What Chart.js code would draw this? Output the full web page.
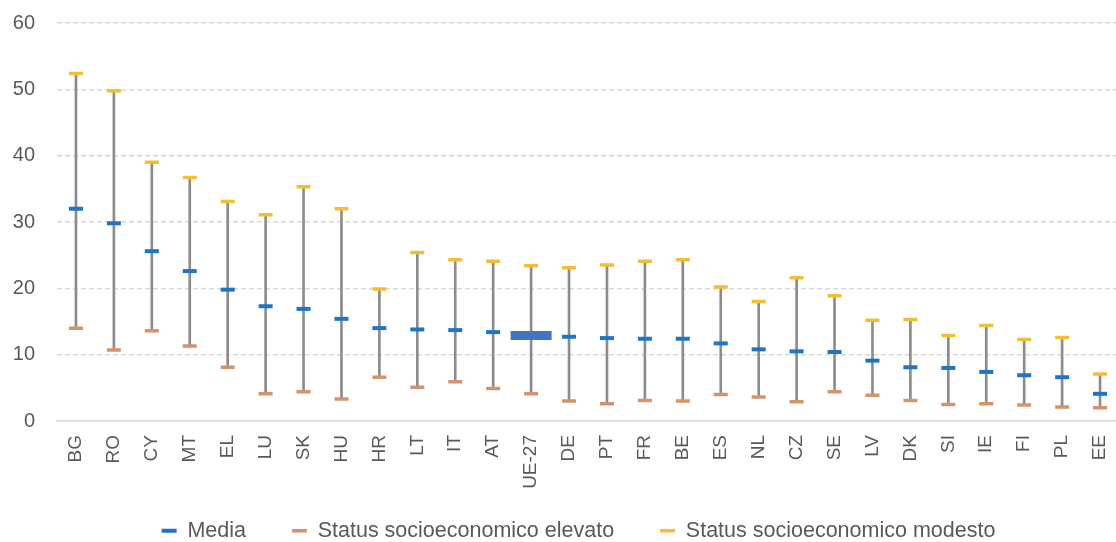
<!DOCTYPE html>
<html>
<head>
<meta charset="utf-8">
<script src="https://cdn.jsdelivr.net/npm/chart.js@4/dist/chart.umd.min.js"></script>
<style>
  html, body { margin: 0; padding: 0; overflow: hidden; background: #fff; }
  #wrap { width: 1116px; height: 542px; overflow: hidden; position: relative; }
  #box { width: 1130px; height: 542px; position: absolute; left: 0; top: 0; }
</style>
</head>
<body>
<div id="wrap"><div id="box"><canvas id="c"></canvas></div></div>
<script>
const categories = ['BG','RO','CY','MT','EL','LU','SK','HU','HR','LT','IT','AT','UE-27','DE','PT','FR','BE','ES','NL','CZ','SE','LV','DK','SI','IE','FI','PL','EE'];
const media   = [32.0, 29.8, 25.6, 22.6, 19.8, 17.3, 16.9, 15.4, 14.0, 13.8, 13.7, 13.4, 12.9, 12.7, 12.5, 12.4, 12.4, 11.7, 10.8, 10.5, 10.4, 9.1, 8.1, 8.0, 7.4, 6.9, 6.6, 4.1];
const elevato = [14.0, 10.7, 13.6, 11.3, 8.1, 4.1, 4.4, 3.3, 6.6, 5.1, 5.9, 4.9, 4.1, 3.0, 2.6, 3.1, 3.0, 4.0, 3.6, 2.9, 4.4, 3.9, 3.1, 2.5, 2.6, 2.4, 2.1, 2.0];
const modesto = [52.4, 49.8, 39.0, 36.7, 33.1, 31.1, 35.3, 32.0, 19.9, 25.4, 24.3, 24.1, 23.4, 23.1, 23.5, 24.1, 24.3, 20.2, 18.0, 21.6, 18.9, 15.2, 15.3, 12.9, 14.4, 12.3, 12.6, 7.1];
const yTicks = [0, 10, 20, 30, 40, 50, 60];
const seriesNames = ['Media', 'Status socioeconomico elevato', 'Status socioeconomico modesto'];

const FONT = "'Liberation Sans', Arial, sans-serif";
const TXT = '#595959';
const LEGEND_H = 40;
const LEGEND_SHIFT = 15;
const LEGEND_PAD = 46;
const LEGEND_CENTER_Y = 532;

const ranges = categories.map((c, i) => [elevato[i], modesto[i]]);
const isEU = categories.map(c => c === 'UE-27');

const legendPatch = {
  id: 'legendPatch',
  afterInit(chart) {
    const lg = chart.legend;
    if (!lg) return;
    const f = lg.fit;
    lg.fit = function () { f.call(this); this.height = LEGEND_H; };
  },
  afterLayout(chart) {
    const lg = chart.legend;
    if (!lg) return;
    lg.left += LEGEND_SHIFT;
    lg.right += LEGEND_SHIFT;
    const ih = lg._itemHeight || 24;
    lg.top = LEGEND_CENTER_Y - LEGEND_PAD - ih / 2;
    lg.bottom = chart.height;
  }
};

function noPad(scale) {
  scale.paddingTop = 0; scale.paddingBottom = 0; scale.paddingLeft = 0; scale.paddingRight = 0;
}

new Chart(document.getElementById('c'), {
  data: {
    labels: categories,
    datasets: [
      { type: 'line', label: seriesNames[0], data: media, showLine: false, order: 0, pointStyle: 'line',
        pointRadius: isEU.map(e => e ? 20.5 : 7), pointHoverRadius: isEU.map(e => e ? 20.5 : 7),
        pointBorderWidth: isEU.map(e => e ? 9 : 4),
        pointBorderColor: isEU.map(e => e ? '#4472C4' : '#1F74C4'),
        borderColor: '#1F74C4', backgroundColor: '#1F74C4' },
      { type: 'line', label: seriesNames[1], data: elevato, showLine: false, order: 1, pointStyle: 'line',
        pointRadius: 7, pointBorderWidth: 3.5, pointBorderColor: '#D4936A',
        borderColor: '#D4936A', backgroundColor: '#D4936A' },
      { type: 'line', label: seriesNames[2], data: modesto, showLine: false, order: 2, pointStyle: 'line',
        pointRadius: 7, pointBorderWidth: 3.5, pointBorderColor: '#F2BE32',
        borderColor: '#F2BE32', backgroundColor: '#F2BE32' },
      { type: 'bar', label: 'range', data: ranges, order: 10, barThickness: 2,
        backgroundColor: '#8c8c8c', borderWidth: 0 }
    ]
  },
  options: {
    responsive: true, maintainAspectRatio: false, animation: false, events: [],
    layout: { padding: { top: 23, right: 3, bottom: 0, left: 0 } },
    plugins: {
      tooltip: { enabled: false },
      legend: {
        position: 'bottom',
        labels: {
          filter: (item) => item.text !== 'range',
          usePointStyle: true, pointStyleWidth: 15, padding: LEGEND_PAD,
          color: TXT, font: { family: FONT, size: 21.5 }
        }
      }
    },
    scales: {
      x: {
        grid: { display: false, drawTicks: false },
        border: { display: true, color: '#d9d9d9', width: 1.5 },
        ticks: { color: TXT, font: { family: FONT, size: 19 }, minRotation: 90, maxRotation: 90, autoSkip: false, padding: 14 },
        afterFit(scale) { scale.height = 542 - 421 - LEGEND_H; noPad(scale); }
      },
      y: {
        min: 0, max: 60,
        afterBuildTicks(scale) { scale.ticks = yTicks.map(v => ({ value: v })); },
        grid: { color: '#d9d9d9', lineWidth: 1.5, drawTicks: false },
        border: { display: false, dash: [5, 3] },
        ticks: { color: TXT, font: { family: FONT, size: 20 }, padding: 22 },
        afterFit(scale) { scale.width = 57; noPad(scale); }
      }
    }
  },
  plugins: [legendPatch]
});
</script>
</body>
</html>
